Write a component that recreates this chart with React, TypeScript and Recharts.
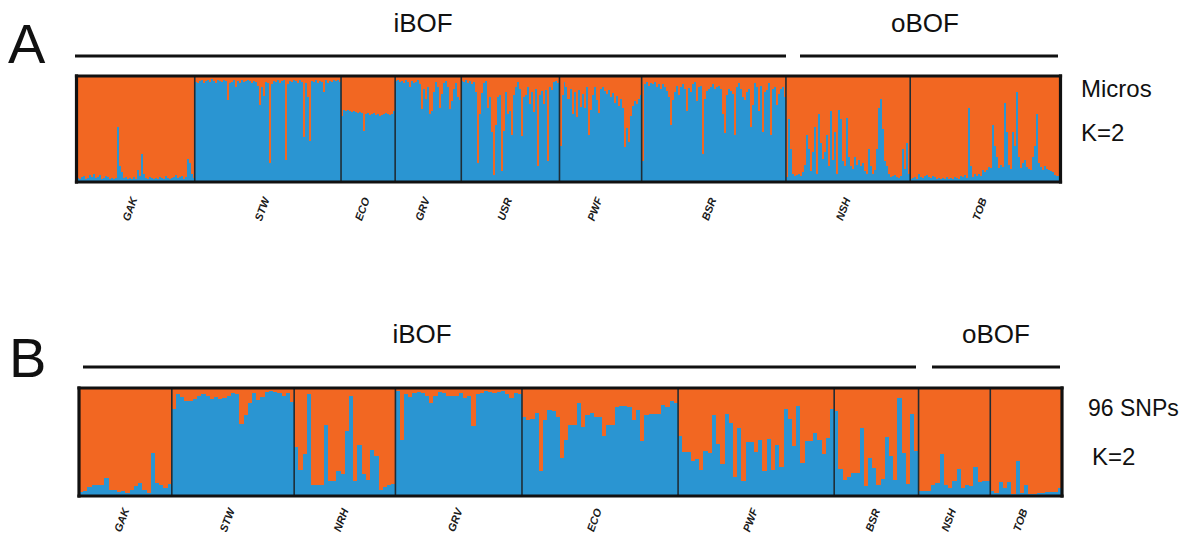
import React from 'react';
import { BarChart, Bar, XAxis, YAxis, ReferenceLine } from 'recharts';

const ORANGE = '#F26722';
const BLUE = '#2A95D2';
const SEP = '#1f2d36';
const FRAME = '#111111';
const FONT = '"Liberation Sans", Arial, Helvetica, sans-serif';

// ---------- Panel A (Micros, K=2): blue membership in % per individual ----------
const POPS_A = ['GAK', 'STW', 'ECO', 'GRV', 'USR', 'PWF', 'BSR', 'NSH', 'TOB'];
const GAK_A = [4,3,5,6,3,4,7,5,8,4,5,7,3,4,6,5,3,4,3,4,52,15,9,4,5,3,4,3,5,3,11,6,26,8,4,3,5,4,3,4,3,5,4,3,6,4,3,4,5,7,4,5,6,3,5,22,18,8,4];
const STW_A = [94,93,95,96,93,95,96,94,97,95,93,96,95,94,96,95,77,93,94,96,90,95,93,96,94,95,96,95,93,95,94,91,73,90,81,94,93,18,92,95,94,96,93,95,96,21,92,95,94,96,95,93,96,94,42,93,80,39,95,94,96,93,95,94,85,96,93,95,94,96,95,96,94];
const ECO_A = [62,68,67,68,67,66,67,66,65,66,65,48,64,65,63,64,65,63,64,62,63,64,65,64,63,64,67];
const GRV_A = [95,96,94,95,93,96,94,90,95,93,94,96,92,69,88,78,90,64,67,85,94,90,70,83,93,95,90,69,76,88,93,80,77];
const USR_A = [95,94,96,93,95,92,94,85,18,64,84,93,95,70,80,47,7,54,80,82,10,48,85,64,67,44,82,90,94,88,43,80,82,90,74,85,66,88,15,82,86,74,87,20,90,87,94,95,93];
const PWF_A = [34,82,94,90,78,88,64,85,61,87,71,83,70,90,44,68,82,90,77,65,88,90,86,83,87,80,84,75,81,72,78,70,33,51,38,62,72,76,74,78,82];
const BSR_A = [20,92,94,91,93,92,94,90,92,88,92,90,86,80,54,77,85,91,82,90,92,88,67,89,85,92,94,76,90,91,26,78,86,88,90,92,88,90,91,88,64,46,82,88,86,83,44,90,93,88,80,77,85,88,52,73,93,90,67,91,47,85,87,93,44,88,90,73,83,88,90,80];
const NSH_A = [5,59,31,8,6,7,8,6,9,16,44,31,10,28,52,8,64,37,22,28,44,15,67,21,47,8,68,59,20,15,60,24,15,12,24,16,21,15,18,10,8,31,15,8,11,31,70,78,50,20,15,8,5,6,7,5,4,6,31,12,37,8];
const TOB_A = [3,4,5,3,8,5,4,6,7,5,4,6,5,3,4,3,4,3,5,3,4,3,5,4,3,6,5,7,4,70,15,5,8,6,8,6,11,9,11,14,13,54,34,24,13,16,14,75,47,16,12,47,34,85,24,13,18,21,14,12,11,24,34,64,18,14,11,15,12,11,10,9,7,6,8];

// ---------- Panel B (96 SNPs, K=2) ----------
const POPS_B = ['GAK', 'STW', 'NRH', 'GRV', 'ECO', 'PWF', 'BSR', 'NSH', 'TOB'];
const GAK_B = [4,5,8,10,10,10,17,6,6,4,5,3,6,9,12,6,3,40,12,10,7,11];
const STW_B = [81,94,92,88,88,90,93,94,93,90,92,90,91,93,95,94,67,75,86,95,89,92,96,97,96,95,93,95,87];
const NRH_B = [45,24,39,94,10,10,10,66,14,14,23,20,60,93,14,47,20,15,43,37,6,8,10,11];
const GRV_B = [97,52,94,92,95,96,95,93,86,93,96,95,93,93,93,95,91,93,65,94,95,97,96,95,96,97,94,91,95,94];
const ECO_B = [73,70,71,77,23,70,80,79,73,35,52,66,66,86,64,75,77,73,73,56,66,66,82,83,83,82,70,80,51,75,76,76,76,84,82,88,86];
const PWF_B = [56,41,41,32,34,24,42,40,75,48,30,76,68,18,63,14,50,50,41,52,23,53,24,47,27,81,71,46,83,31,51,51,58,52,39,54,81];
const BSR_B = [79,25,15,18,21,21,63,9,35,26,10,16,55,37,15,91,40,11,76,42];
const NSH_B = [5,5,5,10,12,39,10,7,14,25,7,10,9,27,13,14,14];
const TOB_B = [5,3,13,7,13,2,32,3,10,2,2,2.5,3,3.5,4,3.5,7];

const GROUPS_A = [GAK_A, STW_A, ECO_A, GRV_A, USR_A, PWF_A, BSR_A, NSH_A, TOB_A];
const GROUPS_B = [GAK_B, STW_B, NRH_B, GRV_B, ECO_B, PWF_B, BSR_B, NSH_B, TOB_B];

type Row = { i: number; blue: number; orange: number };

function build(groups: number[][]) {
  const rows: Row[] = [];
  const starts: number[] = [];
  const mids: number[] = [];
  let idx = 0;
  groups.forEach((g) => {
    starts.push(idx);
    mids.push(idx + Math.floor(g.length / 2));
    g.forEach((v) => {
      rows.push({ i: idx, blue: v / 100, orange: (100 - v) / 100 });
      idx++;
    });
  });
  return { rows, starts, mids };
}

type PanelProps = {
  pops: string[];
  groups: number[][];
  width: number;
  height: number;
  margin: { top: number; right: number; bottom: number; left: number };
  axisHeight: number;
  labelDx: number;
  labelDy: number;
  extra: number;
};

function makeShape(extra: number) {
  return (props: any) => {
    const { x, y, width, height, fill } = props;
    if (!(width > 0) || !(height > 0)) return <g />;
    return <rect x={x} y={y} width={width + extra} height={height} fill={fill} shapeRendering="crispEdges" />;
  };
}

function Panel({ pops, groups, width, height, margin, axisHeight, labelDx, labelDy, extra }: PanelProps) {
  const { rows, starts, mids } = build(groups);
  const labelOf = new Map<number, string>(mids.map((m, k) => [m, pops[k]]));
  const last = rows.length - 1;
  const shape = makeShape(extra);
  const renderTick = (props: any) => {
    const { x, y, payload } = props;
    const label = labelOf.get(Number(payload.value)) ?? '';
    return (
      <text
        transform={`translate(${x + labelDx},${y + labelDy}) rotate(-70)`}
        textAnchor="middle"
        dominantBaseline="central"
        fontSize={11}
        fontStyle="italic"
        fontWeight="bold"
        fontFamily={FONT}
        fill="#1a1a1a"
      >
        {label}
      </text>
    );
  };
  return (
    <BarChart width={width} height={height} data={rows} margin={margin} barCategoryGap={0} barGap={0}>
      <XAxis
        dataKey="i"
        type="category"
        ticks={mids}
        interval={0}
        tick={renderTick}
        tickLine={false}
        axisLine={false}
        tickSize={0}
        tickMargin={0}
        height={axisHeight}
      />
      <YAxis hide type="number" domain={[0, 1]} allowDataOverflow />
      <Bar dataKey="blue" stackId="q" fill={BLUE} shape={shape} isAnimationActive={false} />
      <Bar dataKey="orange" stackId="q" fill={ORANGE} shape={shape} isAnimationActive={false} />
      {starts.slice(1).map((s) => (
        <ReferenceLine key={`sep${s}`} x={s} position="start" stroke={SEP} strokeWidth={1.6} />
      ))}
      <ReferenceLine y={1} stroke={FRAME} strokeWidth={3.2} strokeLinecap="square" />
      <ReferenceLine y={0} stroke={FRAME} strokeWidth={3.2} strokeLinecap="square" />
      <ReferenceLine x={0} position="start" stroke={FRAME} strokeWidth={3.2} strokeLinecap="square" />
      <ReferenceLine x={last} position="end" stroke={FRAME} strokeWidth={3.2} strokeLinecap="square" />
    </BarChart>
  );
}

export default function App() {
  return (
    <div style={{ position: 'fixed', left: 0, top: 0, width: 1197, height: 533, background: '#ffffff', overflow: 'hidden' }}>
      <div style={{ position: 'absolute', left: 0, top: 0 }}>
        <Panel
          pops={POPS_A}
          groups={GROUPS_A}
          width={1197}
          height={260}
          margin={{ top: 76, left: 76.5, right: 136.5, bottom: 18 }}
          axisHeight={60}
          labelDx={-6}
          labelDy={27}
          extra={0.02}
        />
      </div>
      <div style={{ position: 'absolute', left: 0, top: 300 }}>
        <Panel
          pops={POPS_B}
          groups={GROUPS_B}
          width={1197}
          height={233}
          margin={{ top: 88, left: 79, right: 135, bottom: 2 }}
          axisHeight={35}
          labelDx={-6}
          labelDy={24}
          extra={0.25}
        />
      </div>
      <svg width={1197} height={533} style={{ position: 'absolute', left: 0, top: 0, pointerEvents: 'none' }}>
        <g fontFamily={FONT} fill="#111">
          <text x={8} y={63} fontSize={56}>A</text>
          <text x={9} y={377} fontSize={56}>B</text>
          <text x={423} y={32} fontSize={26} textAnchor="middle">iBOF</text>
          <text x={925} y={32} fontSize={26} textAnchor="middle">oBOF</text>
          <text x={422} y={343} fontSize={26} textAnchor="middle">iBOF</text>
          <text x={996} y={343} fontSize={26} textAnchor="middle">oBOF</text>
          <text x={1081} y={97} fontSize={24}>Micros</text>
          <text x={1081} y={141} fontSize={24}>K=2</text>
          <text x={1088} y={416} fontSize={23}>96 SNPs</text>
          <text x={1092} y={465} fontSize={24}>K=2</text>
        </g>
        <g stroke="#111" strokeWidth={3}>
          <line x1={75} y1={56} x2={786} y2={56} />
          <line x1={800} y1={56} x2={1058} y2={56} />
          <line x1={83} y1={367} x2={916} y2={367} />
          <line x1={932} y1={367} x2={1060} y2={367} />
        </g>
      </svg>
    </div>
  );
}
